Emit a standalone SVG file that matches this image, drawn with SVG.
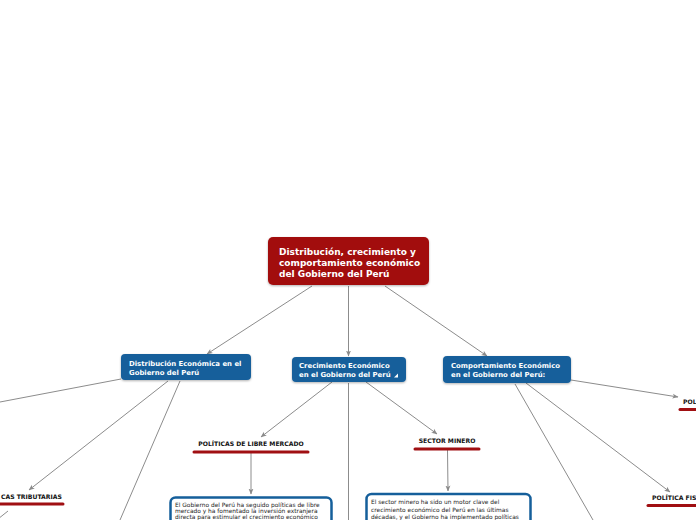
<svg xmlns="http://www.w3.org/2000/svg" width="696" height="520" viewBox="0 0 696 520">
<defs>
<marker id="arr" markerWidth="6" markerHeight="6" refX="5.5" refY="3" orient="auto" markerUnits="userSpaceOnUse">
<path d="M0,0.5 L6,3 L0,5.5 L1.5,3 z" fill="#8a8a8a"/>
</marker>
<filter id="sh" x="-10%" y="-20%" width="120%" height="150%">
<feDropShadow dx="0" dy="1" stdDeviation="1" flood-color="#000" flood-opacity="0.3"/>
</filter>
<style>
.c{stroke:#8c8c8c;stroke-width:1;fill:none}
.ca{stroke:#8c8c8c;stroke-width:1;fill:none;marker-end:url(#arr)}
.root{fill:#a20a0c}
.main{fill:#155f9b}
.t{font-family:"DejaVu Sans",Verdana,sans-serif;fill:#fff;font-weight:bold}
.lbl{font-family:"DejaVu Sans",Verdana,sans-serif;fill:#111;font-weight:bold;font-size:6.1px}
.ul{stroke:#a00f12;stroke-width:3;stroke-linecap:round}
.box{fill:#fff;stroke:#155f9b;stroke-width:2.5}
.body{font-family:"DejaVu Sans",Verdana,sans-serif;fill:#222;font-size:5.9px}
</style>
</defs>
<rect width="696" height="520" fill="#fff"/>
<g id="connectors">
<line class="ca" x1="312" y1="286" x2="207" y2="354"/>
<line class="ca" x1="348.5" y1="286" x2="348.5" y2="356"/>
<line class="ca" x1="385" y1="286" x2="487" y2="356"/>
<line class="c" x1="121" y1="379" x2="0" y2="402"/>
<line class="ca" x1="168" y1="381" x2="29" y2="490"/>
<line class="c" x1="180" y1="381" x2="120" y2="520"/>
<line class="c" x1="8" y1="511" x2="-2" y2="519"/>
<line class="ca" x1="332" y1="382" x2="261" y2="437"/>
<line class="c" x1="348.5" y1="383" x2="348.5" y2="520"/>
<line class="ca" x1="366" y1="382" x2="437" y2="434"/>
<line class="ca" x1="251" y1="453" x2="251" y2="494"/>
<line class="ca" x1="447.5" y1="450" x2="448" y2="491"/>
<line class="ca" x1="571" y1="380" x2="678" y2="397"/>
<line class="ca" x1="526" y1="383" x2="670" y2="492"/>
<line class="c" x1="515" y1="384" x2="593" y2="520"/>
</g>
<g id="root">
<rect class="root" x="268" y="237" width="161" height="48" rx="5" filter="url(#sh)"/>
<text class="t" font-size="9" x="279"><tspan x="279" y="255">Distribución, crecimiento y</tspan><tspan x="279" y="266">comportamiento económico</tspan><tspan x="279" y="276.5">del Gobierno del Perú</tspan></text>
</g>
<g id="n-distribucion">
<rect class="main" x="121" y="354" width="130" height="26" rx="4" filter="url(#sh)"/>
<text class="t" font-size="6.9"><tspan x="129" y="366">Distribución Económica en el</tspan><tspan x="129" y="374.5">Gobierno del Perú</tspan></text>
</g>
<g id="n-crecimiento">
<rect class="main" x="292" y="357" width="114" height="25" rx="4" filter="url(#sh)"/>
<text class="t" font-size="6.9"><tspan x="299" y="368">Crecimiento Económico</tspan><tspan x="299" y="377">en el Gobierno del Perú</tspan></text>
<polygon points="398,373.5 398,377.5 394,377.5" fill="#fff"/>
</g>
<g id="n-comportamiento">
<rect class="main" x="443" y="356" width="128" height="27" rx="4" filter="url(#sh)"/>
<text class="t" font-size="6.9"><tspan x="451" y="368">Comportamiento Económico</tspan><tspan x="451" y="377">en el Gobierno del Perú:</tspan></text>
</g>
<g id="l-tributarias">
<text class="lbl" x="1" y="499">CAS TRIBUTARIAS</text>
<line class="ul" x1="-2" y1="504" x2="63" y2="504"/>
</g>
<g id="l-libre-mercado">
<text class="lbl" x="251" y="445.5" text-anchor="middle">POLÍTICAS DE LIBRE MERCADO</text>
<line class="ul" x1="194" y1="452" x2="308" y2="452"/>
</g>
<g id="l-sector-minero">
<text class="lbl" x="447" y="443" text-anchor="middle">SECTOR MINERO</text>
<line class="ul" x1="415" y1="449" x2="479" y2="449"/>
</g>
<g id="l-pol">
<text class="lbl" x="683" y="403.5">POL</text>
<line class="ul" x1="680" y1="409.5" x2="700" y2="409.5"/>
</g>
<g id="l-politica-fiscal">
<text class="lbl" x="652" y="500">POLÍTICA FIS</text>
<line class="ul" x1="648" y1="505.5" x2="700" y2="505.5"/>
</g>
<g id="b-libre-mercado">
<rect class="box" x="170.5" y="497.5" width="161" height="40" rx="5"/>
<text class="body"><tspan x="175" y="506.5">El Gobierno del Perú ha seguido políticas de libre</tspan><tspan x="175" y="513">mercado y ha fomentado la inversión extranjera</tspan><tspan x="175" y="519">directa para estimular el crecimiento económico</tspan></text>
</g>
<g id="b-sector-minero">
<rect class="box" x="366.5" y="494" width="164" height="44" rx="5"/>
<text class="body"><tspan x="371" y="504">El sector minero ha sido un motor clave del</tspan><tspan x="371" y="511.5">crecimiento económico del Perú en las últimas</tspan><tspan x="371" y="518.5">décadas, y el Gobierno ha implementado políticas</tspan></text>
</g>
</svg>
